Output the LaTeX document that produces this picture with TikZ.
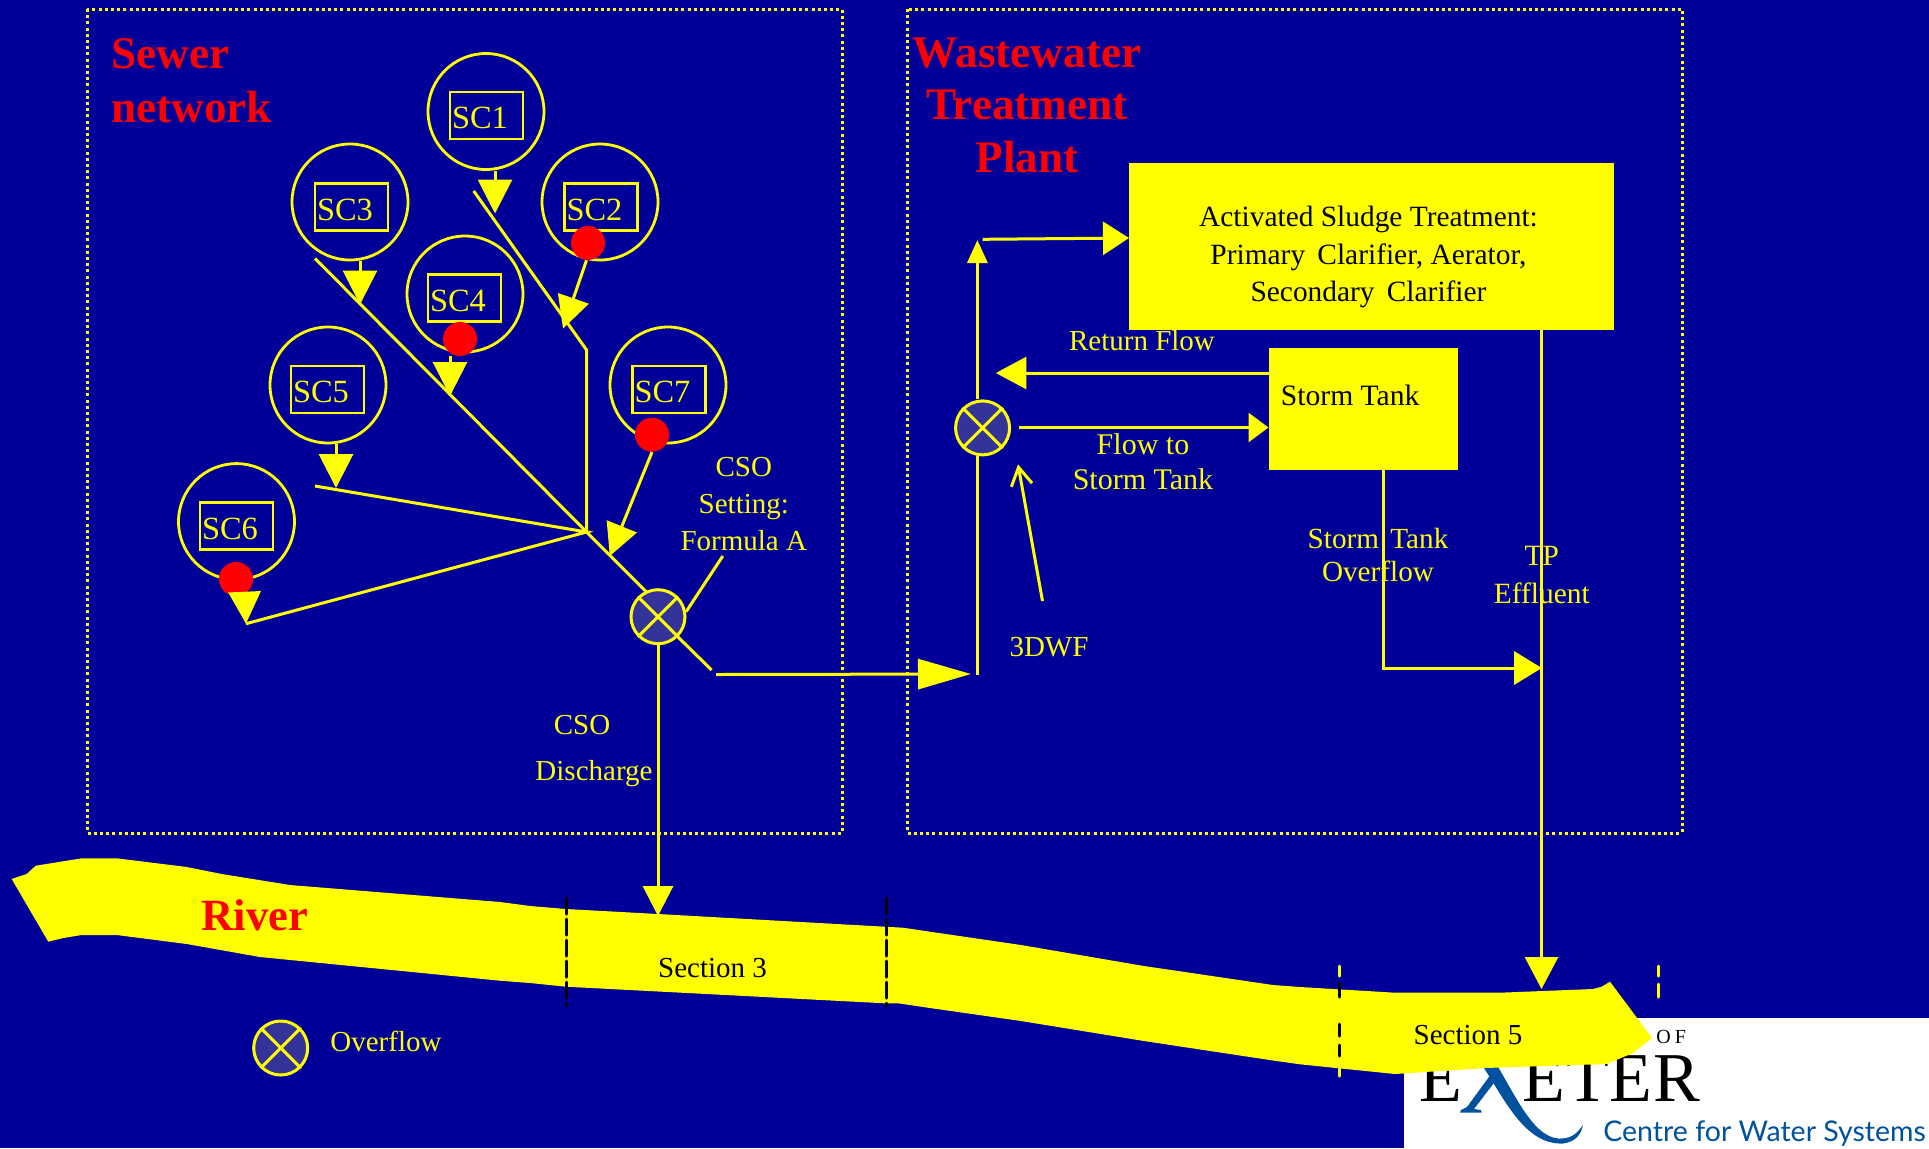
\documentclass[tikz,border=0pt]{standalone}
\usepackage{fontspec}
\setmainfont{Liberation Serif}
\newfontfamily\logofont{Lato}
\usetikzlibrary{arrows.meta}
\definecolor{bgblue}{RGB}{0,0,153}
\definecolor{symblue}{RGB}{51,51,153}
\definecolor{logoblue}{RGB}{0,81,158}
\definecolor{yel}{RGB}{255,255,0}
\tikzset{
  x=0.5pt,y=-0.5pt,
  ln/.style={draw=yel,line width=1.5pt},
  tri/.style={ln,-{Triangle[length=#1,width=#1]}},
  lab/.style={text=yel,font=\fontsize{14.5}{18.5}\selectfont,align=center,inner sep=0pt},
  blk/.style={text=black,font=\fontsize{14.5}{18.5}\selectfont,align=center,inner sep=0pt},
  ttl/.style={text=red,font=\fontsize{22.6}{27}\selectfont\bfseries,inner sep=0pt},
  sccirc/.style={circle,draw=yel,line width=1.4pt,minimum size=58pt,inner sep=0pt},
  scbox/.style={rectangle,draw=yel,line width=1.4pt,text=yel,font=\fontsize{16.2}{18}\selectfont,minimum height=23.5pt,text width=34.5pt,text height=13pt,text depth=0pt,align=left,inner xsep=1pt,inner ysep=0pt},
  reddot/.style={circle,fill=red,minimum size=17pt,inner sep=0pt},
  ofl/.style={circle,draw=yel,fill=symblue,line width=1.5pt,minimum size=27pt,inner sep=0pt},
  frame/.style={draw=yel,line width=1.5pt,dash pattern=on 1.5pt off 1.6pt},
  ybox/.style={rectangle,fill=yel,draw=yel,line width=.5pt,inner sep=0pt},
  secmark/.style={line width=1.5pt,line cap=round},
  dash1/.style={secmark,dash pattern=on 8pt off 2.5pt},
}
\newcommand{\oflcross}[1]{\draw[ln] (#1.45)--(#1.225) (#1.135)--(#1.315);}
\begin{document}
\begin{tikzpicture}
\useasboundingbox (0,0) rectangle (1929,1148);
\fill[bgblue] (0,0) rectangle (1929,1148);
\fill[white] (1404,1018) rectangle (1929,1148);

% logo
\node[anchor=base west,inner sep=0pt,text=black,font=\fontsize{35}{35}\selectfont] (lE) at (1419,1101) {E};
\node[anchor=base west,inner sep=0pt,text=black,font=\fontsize{35}{35}\selectfont] (lR) at (1522,1101) {E\hspace{.6pt}T\hspace{.3pt}E\hspace{.6pt}R};
\node[anchor=base west,inner sep=0pt,text=black,font=\fontsize{10}{10}\selectfont] (lO) at (1656,1043) {O\hspace{2pt}F};
\node[anchor=base west,inner sep=0pt,text=logoblue,font=\logofont\fontsize{14.25}{15}\selectfont] (lC) at (1603,1141.7) {Centre for Water Systems};
\fill[logoblue] (1460,1112.5) -- (1481.5,1112.5) -- (1481,1110) -- (1474,1109) -- (1500,1075) -- (1494,1070) -- (1467,1107) -- (1461,1110) -- cycle;
\fill[logoblue] (1482,1065) .. controls (1505,1100) and (1525,1145) .. (1563,1143.5)
  .. controls (1575,1142) and (1581,1135) .. (1583,1125)
  .. controls (1576,1135) and (1570,1139) .. (1558,1138.5)
  .. controls (1535,1136) and (1520,1105) .. (1497,1065) -- cycle;

% frames
\draw[frame] (87,9) rectangle (842,833);
\draw[frame] (907,9) rectangle (1682,833);

% river
\fill[yel] (11.7,879) -- (26.7,874) -- (35.7,865.7) -- (81.7,858.3) -- (116.7,858.3) -- (186.7,867) -- (221.7,874) -- (290,885) -- (500,902) -- (530,906) -- (566,909) -- (658,914) -- (885,926.7) -- (903,927.7) -- (930,931.7) -- (1021,945) -- (1144,966) -- (1273,985) -- (1300,987) -- (1395,992.7) -- (1500,992.7) -- (1593,989) -- (1601.7,986.7) -- (1610,981.7) -- (1652,1038) -- (1633,1053) -- (1606.7,1064) -- (1485,1068) -- (1395,1074) -- (1300,1064.3) -- (1273,1060.5) -- (1144,1041) -- (1021,1021) -- (930,1008) -- (898,1003.3) -- (885,1003.3) -- (566,986.7) -- (530,983) -- (500,980.7) -- (260,957) -- (186.7,944) -- (116.7,935) -- (81.7,935) -- (63.3,938) -- (48.3,941.7) -- cycle;
\node[ttl,anchor=base west,font=\fontsize{22.3}{27}\selectfont\bfseries] (river) at (201,930.7) {River};
\node[blk] (s3) at (712.5,968) {Section 3};
\node[blk] (s5) at (1468,1035) {Section 5};

% section markers
\coordinate (m1a) at (566,898); \coordinate (m1b) at (566,1006);
\coordinate (m2a) at (886,898); \coordinate (m2b) at (886,1006);
\coordinate (m3a) at (1339,966); \coordinate (m3b) at (1339,1076);
\coordinate (m4a) at (1658,966); \coordinate (m4b) at (1658,997);
\draw[dash1,black] (m1a)--(m1b);
\draw[dash1,black] (m2a)--(m2b);
\draw[secmark,yel] (m3a)--(1339,976);
\draw[secmark,black] (1339,983)--(1339,997);
\draw[secmark,black] (1339,1024)--(1339,1036) (1339,1045)--(1339,1056);
\draw[secmark,yel] (1339,1066)--(m3b);
\draw[secmark,yel] (m4a)--(1658,976) (1658,984)--(m4b);

% titles
\node[ttl,anchor=base west,align=left] (sewer) at (111,122) {Sewer\\network};
\node[ttl,anchor=base,align=center,font=\fontsize{22.6}{26.2}\selectfont\bfseries] (wtp) at (1027,172) {Wastewater\\Treatment\\Plant};

% catchments
\foreach \n/\x/\y in {1/486/111.5,3/350/202,2/600/202,4/465/294,5/328/385,7/668/385,6/236.5/521.6}
  \node[sccirc] (c\n) at (\x,\y) {};
\node[scbox] (b1) at (486.5,115.5) {SC1};
\node[scbox] (b3) at (351.5,207) {SC3};
\node[scbox] (b2) at (601,207) {SC2};
\node[scbox] (b4) at (464.5,298) {SC4};
\node[scbox] (b5) at (327.5,389.5) {SC5};
\node[scbox] (b7) at (669,389.5) {SC7};
\node[scbox] (b6) at (236.5,526) {SC6};

% pipe coordinates
\coordinate (p1) at (473.7,191);
\coordinate (p1k) at (586.6,350);
\coordinate (J) at (586.6,532);
\coordinate (p3) at (315,258.4);
\coordinate (p5) at (315,486);
\coordinate (p6) at (246,623.7);
\coordinate (pm) at (646,591.5);
\coordinate (pn) at (677,636);
\coordinate (pe) at (711.6,670);
\draw[ln] (p1)--(p1k)--(J);
\draw[ln] (p3)--(J)--(pm)--(pn)--(pe);
\draw[ln] (p5)--(J)--(p6);

% red dots
\node[reddot] (d2) at (588,243) {};
\node[reddot] (d4) at (460,339) {};
\node[reddot] (d7) at (652,434.7) {};
\node[reddot] (d6) at (236,579) {};

% catchment arrows
\coordinate (t1) at (495,213.5);
\coordinate (t3) at (360,304.5);
\coordinate (t4) at (450,396);
\coordinate (t5) at (336,488);
\coordinate (t2) at (563,328.6);
\coordinate (t7) at (609.8,556);
\draw[tri=17pt] (t1 |- c1.south)--(t1);
\draw[tri=17pt] (t3 |- c3.south)--(t3);
\draw[tri=17pt] (t4 |- d4.south)--(t4);
\draw[tri=17pt] (t5 |- c5.south)--(t5);
\draw[tri=16pt] (d2.-95)--(t2);
\draw[tri=16pt] (d7.-90)--(t7);
\draw[tri=16pt] (d6.-60)--(p6);

% CSO
\node[ofl] (o1) at (658,616.7) {};
\oflcross{o1}
\coordinate (csol) at (722.8,556);
\draw[ln] (csol)--(o1.10);
\node[lab] (csot) at (743.8,504) {CSO\\[0.3pt]Setting:\\Formula A};
\node[lab,align=center] (csod) at (594,751) {CSO\hspace*{12pt}\\[4.2pt]Discharge};
\coordinate (rv1) at (658,916);
\draw[tri=15pt] (o1.south)--(rv1);

% main to WTP
\coordinate (ms) at (716,674.5);
\coordinate (mt) at (971,674);
\draw[ln,-{Triangle[length=26.5pt,width=15pt]}] (ms)--(mt);

% WTP
\node[ybox,minimum width=242pt,minimum height=83.3pt] (asp) at (1371.5,246.3) {};
\node[blk,font=\fontsize{14.7}{18.75}\selectfont] (aspt) at (1368.5,257) {Activated Sludge Treatment:\\Primary\, Clarifier, Aerator,\\Secondary\, Clarifier};
\node[ybox,minimum width=94pt,minimum height=60.5pt] (st) at (1363,408.5) {};
\node[blk,anchor=west,font=\fontsize{14.8}{18}\selectfont] (stt) at (1280.5,395) {Storm Tank};
\node[ofl] (o2) at (982.6,427.9) {};
\oflcross{o2}
\coordinate (v0) at (977.4,675);
\coordinate (v1) at (977.4,240);
\draw[ln] (v0)--(v0 |- o2.south);
\draw[ln,-{Triangle[length=11.5pt,width=10pt]}] (v0 |- o2.north)--(v1);
\coordinate (a0) at (982.6,239.3);
\draw[ln,-{Triangle[length=13pt,width=16.5pt]}] (a0)--(asp.west |- 0,238);
\coordinate (rt) at (995.8,373);
\draw[ln,-{Triangle[length=15.3pt,width=16pt]}] (st.west |- rt)--(rt);
\coordinate (f0) at (1019,427.5);
\draw[ln,-{Triangle[length=10pt,width=14.5pt]}] (f0)--(st.west |- f0);
\coordinate (dw) at (1042.5,601);
\coordinate (dwt) at (1018,464.3);
\draw[ln,-{Straight Barb[length=9pt,width=10.5pt]}] (dw)--(dwt);
\coordinate (ovk) at (1383.7,668);
\coordinate (ovt) at (1541.8,668);
\draw[ln,-{Triangle[length=13.8pt,width=16.5pt]}] (st.south -| ovk)--(ovk)--(ovt);
\coordinate (tpt) at (1541.5,989);
\draw[ln,-{Triangle[length=16pt,width=16.5pt]}] (asp.south -| tpt)--(tpt);

\node[lab] (rf) at (1142,341) {Return Flow};
\node[lab,font=\fontsize{15}{17.3}\selectfont] (fst) at (1143,462) {Flow to\\Storm Tank};
\node[lab,font=\fontsize{14.6}{16.6}\selectfont] (sto) at (1378,555) {Storm\hspace{2pt} Tank\\Overflow};
\node[lab,font=\fontsize{14.7}{19}\selectfont] (tp) at (1541.8,575.5) {TP\\Effluent};
\node[lab] (dwf) at (1049,647) {3DWF};

% legend
\node[ofl] (o3) at (280.7,1048) {};
\oflcross{o3}
\node[lab,anchor=west] (ol) at (330,1041.7) {Overflow};
\end{tikzpicture}
\end{document}
